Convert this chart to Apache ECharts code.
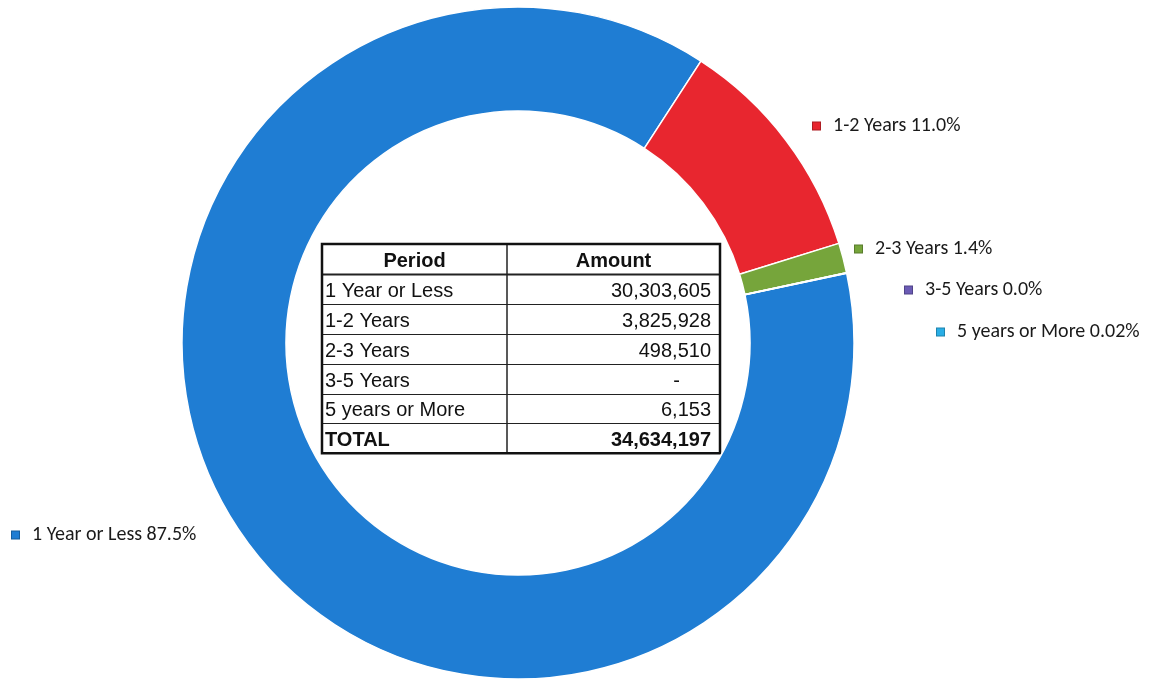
<!DOCTYPE html>
<html>
<head>
<meta charset="utf-8">
<script src="https://cdn.jsdelivr.net/npm/echarts@6/dist/echarts.min.js"></script>
<style>
  html, body { margin: 0; padding: 0; background: #ffffff; }
  #chart { width: 1158px; height: 684px; }
</style>
</head>
<body>
<div id="chart"></div>
<script>
// Balances by period
const categories = ['1 Year or Less', '1-2 Years', '2-3 Years', '3-5 Years', '5 years or More'];
const amounts = [30303605, 3825928, 498510, 0, 6153];
const totalAmount = 34634197;
const percentDecimals = [1, 1, 1, 1, 2];
const sliceColors = ['#1f7dd3', '#e8262f', '#76a53b', '#6b5bb5', '#29aee6'];

// Label anchor points (left edge of the key square, vertical middle)
const labelPositions = [[12, 535], [813, 126], [855, 249], [905, 290], [937, 332]];

const chart = echarts.init(document.getElementById('chart'), null, { renderer: 'canvas' });

function darker(hex, f) {
  const n = parseInt(hex.slice(1), 16);
  const r = Math.round(((n >> 16) & 255) * f), g = Math.round(((n >> 8) & 255) * f), b = Math.round((n & 255) * f);
  return 'rgb(' + r + ',' + g + ',' + b + ')';
}

const pieData = categories.map((name, i) => ({
  name: name,
  value: amounts[i],
  itemStyle: { color: sliceColors[i] },
  label: {
    rich: {
      m: { width: 7, height: 7, backgroundColor: sliceColors[i], borderColor: darker(sliceColors[i], 0.75), borderWidth: 1 }
    }
  }
}));

const sumAmounts = amounts.reduce((a, b) => a + b, 0);

// Summary table in the middle of the ring
const tbl = { left: 322, right: 720, top: 244, rowH: 29.9, colX: 507 };
const tableRows = categories.map((c, i) => [c, amounts[i] === 0 ? '-' : amounts[i].toLocaleString('en-US')]);
const tableFont = '"Liberation Sans", Arial, sans-serif';
const graphics = [];
const nRows = tableRows.length + 2;
const tblBottom = tbl.top + tbl.rowH * nRows;

// horizontal row rules
for (let r = 1; r < nRows; r++) {
  const y = Math.round(tbl.top + tbl.rowH * r) + 0.5;
  graphics.push({ type: 'line', shape: { x1: tbl.left, y1: y, x2: tbl.right, y2: y },
    style: { stroke: '#222', lineWidth: r === 1 ? 2 : 1 } });
}
// column divider
graphics.push({ type: 'line', shape: { x1: tbl.colX, y1: tbl.top, x2: tbl.colX, y2: tblBottom },
  style: { stroke: '#222', lineWidth: 1.5 } });
// outer frame
graphics.push({ type: 'rect', shape: { x: tbl.left, y: tbl.top, width: tbl.right - tbl.left, height: tblBottom - tbl.top },
  style: { fill: 'none', stroke: '#111', lineWidth: 2.5 } });

function cellText(text, x, y, align, bold) {
  graphics.push({ type: 'text', x: x, y: y,
    style: { text: text, fill: '#111', font: (bold ? 'bold ' : '') + '20px ' + tableFont, textAlign: align, textVerticalAlign: 'middle' } });
}
const rowMid = r => tbl.top + tbl.rowH * r + tbl.rowH / 2 + 2.5;
cellText('Period', (tbl.left + tbl.colX) / 2, rowMid(0), 'center', true);
cellText('Amount', (tbl.colX + tbl.right) / 2, rowMid(0), 'center', true);
tableRows.forEach((row, i) => {
  cellText(row[0], tbl.left + 3, rowMid(i + 1), 'left', false);
  if (row[1] === '-') cellText(row[1], tbl.right - 40, rowMid(i + 1), 'right', false);
  else cellText(row[1], tbl.right - 9, rowMid(i + 1), 'right', false);
});
cellText('TOTAL', tbl.left + 3, rowMid(nRows - 1), 'left', true);
cellText(totalAmount.toLocaleString('en-US'), tbl.right - 9, rowMid(nRows - 1), 'right', true);

const option = {
  backgroundColor: '#ffffff',
  animation: false,
  series: [{
    type: 'pie',
    center: [518, 343],
    radius: [232, 336],
    startAngle: 12,
    clockwise: true,
    avoidLabelOverlap: false,
    itemStyle: { borderColor: '#ffffff', borderWidth: 1.5 },
    label: {
      show: true,
      position: 'outside',
      formatter: p => '{m|}{t|' + p.name + ' ' + (p.value / sumAmounts * 100).toFixed(percentDecimals[p.dataIndex]) + '%}',
      rich: {
        t: { fontFamily: 'Carlito, Lato, sans-serif', fontSize: 20, color: '#1a1a1a', padding: [0, 0, 0, 13] }
      }
    },
    labelLine: { show: false },
    labelLayout: p => ({
      x: labelPositions[p.dataIndex][0],
      y: labelPositions[p.dataIndex][1],
      align: 'left',
      verticalAlign: 'middle'
    }),
    emphasis: { disabled: true },
    data: pieData
  }],
  graphic: graphics
};

chart.setOption(option);
</script>
</body>
</html>
